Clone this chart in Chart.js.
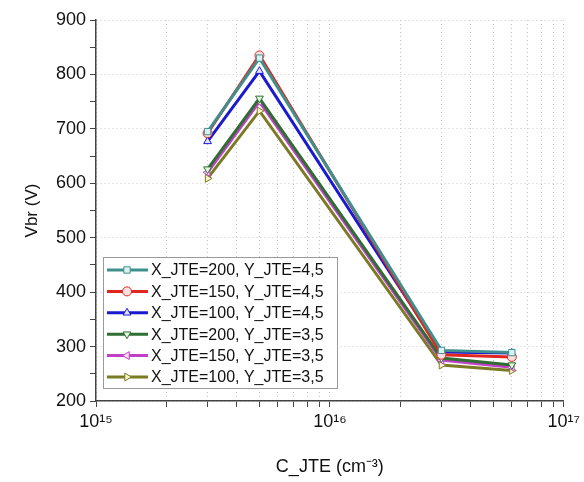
<!DOCTYPE html>
<html>
<head>
<meta charset="utf-8">
<script src="https://cdn.jsdelivr.net/npm/chart.js@4/dist/chart.umd.min.js"></script>
<style>
  html, body { margin: 0; padding: 0; background: #fff; }
  #wrap { width: 584px; height: 482px; }
</style>
</head>
<body>
<div id="wrap"><canvas id="chart" width="584" height="482"></canvas></div>
<script>
// Concentration values (cm^-3) and breakdown voltages per JTE geometry
const concentrations = [3e15, 5e15, 3e16, 6e16];
const seriesLabels = [
  'X_JTE=200, Y_JTE=4,5',
  'X_JTE=150, Y_JTE=4,5',
  'X_JTE=100, Y_JTE=4,5',
  'X_JTE=200, Y_JTE=3,5',
  'X_JTE=150, Y_JTE=3,5',
  'X_JTE=100, Y_JTE=3,5'
];
const vbrX200Y45 = [695, 830, 293, 289];
const vbrX150Y45 = [692, 835, 285, 281];
const vbrX100Y45 = [677, 806, 290, 288];
const vbrX200Y35 = [626, 756, 279, 266];
const vbrX150Y35 = [620, 750, 275, 262];
const vbrX100Y35 = [609, 733, 266, 256];
const xTickLabels = ['10¹⁵', '10¹⁶', '10¹⁷'];

const lineColors = ['#3f8f8c', '#e0261f', '#1a1ad0', '#2f6e33', '#c23fc7', '#7b7a25'];
const fillColors = ['#d8f2f2', '#fde0e0', '#e0e0ff', '#e4f5e0', '#f8e0f8', '#f6f4c8'];
const markers = ['rect', 'circle', 'triangle', 'triangle', 'triangle', 'triangle'];
const markerRot = [0, 0, 0, 180, 270, 90];
const allSeries = [vbrX200Y45, vbrX150Y45, vbrX100Y45, vbrX200Y35, vbrX150Y35, vbrX100Y35];

const FONT = '"Liberation Sans", Arial, sans-serif';

const datasets = allSeries.map((vals, i) => ({
  label: seriesLabels[i],
  data: vals.map((v, j) => ({ x: concentrations[j], y: v })),
  borderColor: lineColors[i],
  backgroundColor: fillColors[i],
  pointBorderColor: lineColors[i],
  pointBackgroundColor: fillColors[i],
  pointStyle: markers[i],
  rotation: markerRot[i],
  pointRadius: 4.5,
  pointBorderWidth: 1,
  borderWidth: 3,
  tension: 0
}));

// Origin-style legend: line - marker - line, then label
const originLegend = {
  id: 'originLegend',
  afterDraw(chart) {
    const ctx = chart.ctx;
    const x0 = 103, y0 = 257, w = 234, h = 131;
    ctx.save();
    ctx.fillStyle = '#ffffff';
    ctx.fillRect(x0, y0, w, h);
    ctx.strokeStyle = '#9a9a9a';
    ctx.lineWidth = 1;
    ctx.strokeRect(x0 + 0.5, y0 + 0.5, w, h);
    ctx.font = '16px ' + FONT;
    ctx.textBaseline = 'middle';
    chart.data.datasets.forEach((ds, i) => {
      const cy = y0 + 13 + i * 21.4;
      ctx.strokeStyle = ds.borderColor;
      ctx.lineWidth = 3;
      ctx.beginPath();
      ctx.moveTo(x0 + 4, cy);
      ctx.lineTo(x0 + 45, cy);
      ctx.stroke();
      ctx.fillStyle = ds.pointBackgroundColor;
      ctx.strokeStyle = ds.pointBorderColor;
      ctx.lineWidth = 1;
      Chart.helpers.drawPoint(ctx, { pointStyle: ds.pointStyle, rotation: ds.rotation, radius: 4.5, borderWidth: 1 }, x0 + 24, cy);
      ctx.fillStyle = '#111';
      ctx.fillText(ds.label, x0 + 48, cy + 1);
    });
    ctx.restore();
  }
};

new Chart(document.getElementById('chart'), {
  type: 'line',
  data: { datasets },
  plugins: [originLegend],
  options: {
    responsive: false,
    animation: false,
    layout: { padding: { top: 20, right: 19, left: 18, bottom: 0 } },
    plugins: { legend: { display: false }, tooltip: { enabled: false } },
    scales: {
      x: {
        type: 'logarithmic',
        min: 1e15,
        max: 1e17,
        border: { color: '#444', width: 1.5, dash: [1, 3] },
        grid: {
          color: '#c8c8c8',
          tickColor: '#444',
          tickLength: 6,
          tickBorderDash: [],
          lineWidth: 1
        },
        ticks: {
          autoSkip: false,
          maxRotation: 0,
          color: '#111',
          font: { family: FONT, size: 18 },
          padding: 4,
          callback: function(value) {
            const exp = Math.log10(value);
            if (Math.abs(exp - Math.round(exp)) < 1e-9) {
              return xTickLabels[Math.round(exp) - 15];
            }
            return '';
          }
        },
        afterBuildTicks: function(scale) {
          const t = [];
          for (let d = 15; d < 17; d++) {
            for (let m = 1; m < 10; m++) t.push({ value: m * Math.pow(10, d) });
          }
          t.push({ value: 1e17 });
          scale.ticks = t;
        },
        title: {
          display: true,
          text: 'C_JTE (cm⁻³)',
          color: '#111',
          font: { family: FONT, size: 18 },
          padding: { top: 6 }
        },
        afterFit: function(scale) { scale.height = 81; }
      },
      y: {
        min: 200,
        max: 900,
        border: { color: '#444', width: 1.5, dash: [1, 3] },
        grid: {
          color: function(c) { return c.tick && c.tick.value % 100 === 0 ? '#c8c8c8' : 'rgba(0,0,0,0)'; },
          tickColor: '#444',
          tickBorderDash: [],
          tickLength: 6
        },
        ticks: {
          stepSize: 50,
          color: '#111',
          font: { family: FONT, size: 18 },
          padding: 4,
          callback: function(value) { return value % 100 === 0 ? value : ''; }
        },
        title: {
          display: true,
          text: 'Vbr (V)',
          color: '#111',
          font: { family: FONT, size: 17 },
          padding: { bottom: 2 }
        },
        afterFit: function(scale) { scale.width = 78; }
      }
    }
  }
});
</script>
</body>
</html>
